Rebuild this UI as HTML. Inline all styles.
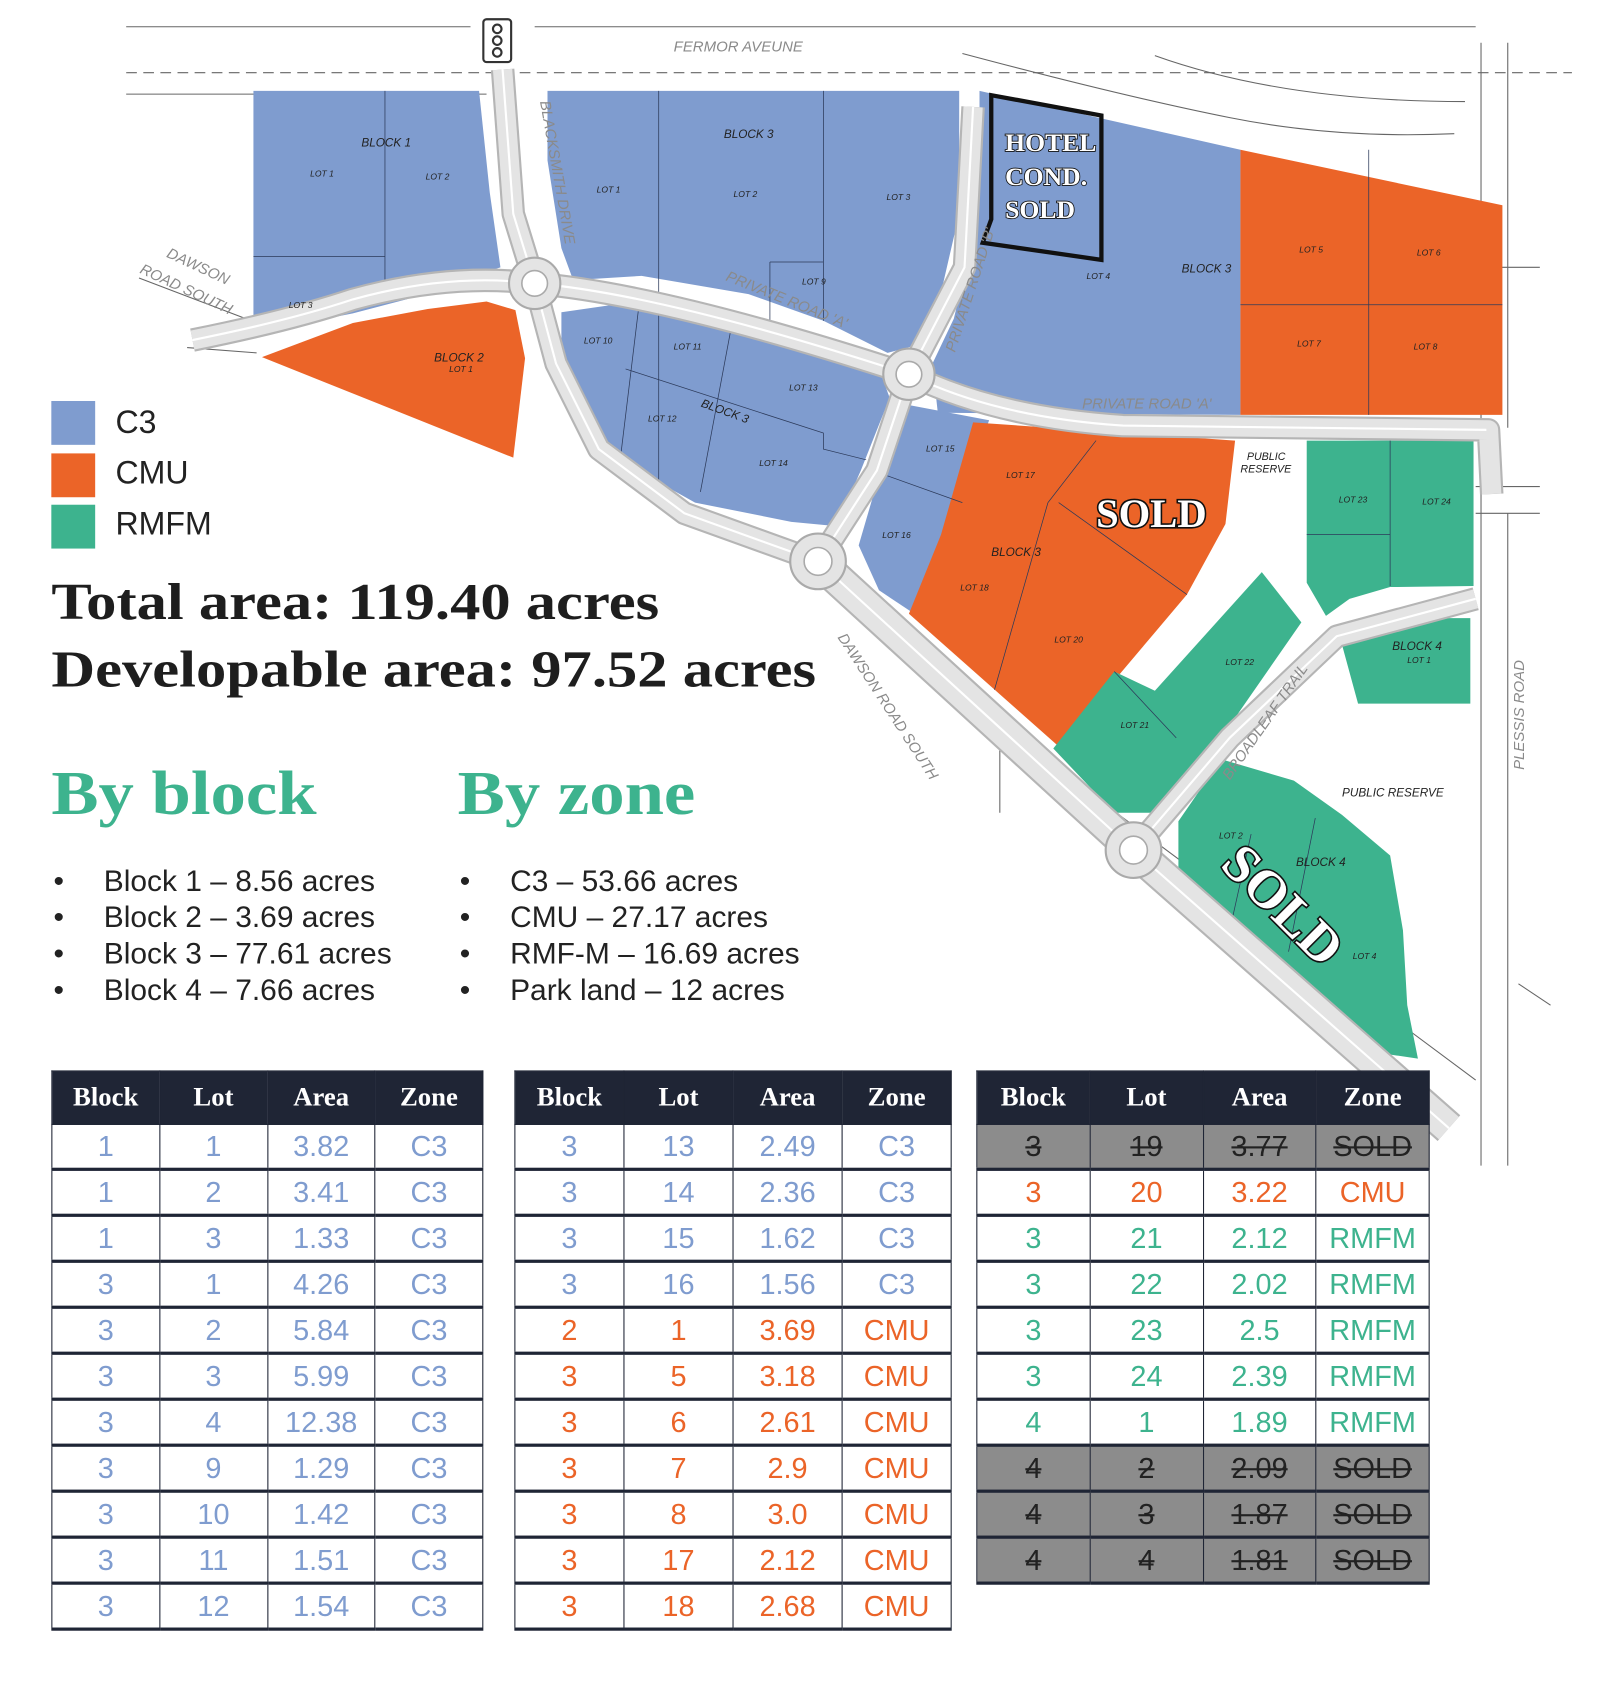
<!DOCTYPE html>
<html><head><meta charset="utf-8"><style>
html,body{margin:0;padding:0;background:#fff;}
body{width:1604px;height:1684px;overflow:hidden;position:relative;}
#w{position:absolute;left:0;top:0;width:1500px;height:1575px;transform:scale(1.06933);transform-origin:0 0;font-family:"Liberation Sans",sans-serif;}
.abs{position:absolute;}
.leg{position:absolute;left:48px;width:41px;height:41px;}
.legt{position:absolute;left:108px;font-size:30px;color:#222;}
.big{position:absolute;left:48px;font-family:"Liberation Serif",serif;font-weight:bold;font-size:48px;color:#1e1e1e;white-space:nowrap;transform:scaleX(1.18);transform-origin:0 0;}
.hd{position:absolute;font-family:"Liberation Serif",serif;font-weight:bold;font-size:58px;color:#3db38e;white-space:nowrap;transform:scaleX(1.14);transform-origin:0 0;}
.li{position:absolute;font-size:28px;color:#222;white-space:nowrap;}
table{position:absolute;border-collapse:collapse;table-layout:fixed;font-size:27px;}
th{background:#1f2535;color:#fff;font-family:"Liberation Serif",serif;font-weight:bold;font-size:25px;height:49px;border:1px solid #1f2535;padding:0;}
td{text-align:center;border-left:1.5px solid #1f2535;border-right:1.5px solid #1f2535;border-bottom:3px solid #1f2535;padding:0;height:40px;}
.b td{color:#7f9ccf}.o td{color:#eb6428}.g td{color:#3db38e}
.s td{background:#8c8c8c;color:#222;text-decoration:line-through;}
</style></head><body><div id="w">
<svg class="abs" style="left:0;top:0" width="1500" height="1575" viewBox="0 0 1500 1575">
<g fill="none" stroke="#666" stroke-width="1">
<path d="M118 25 H440 M500 25 H1380"/>
<path d="M118 68 H1470" stroke-dasharray="10 6"/>
<path d="M118 88 H455"/>
<path d="M900 50 Q1050 90 1150 110 T1360 125"/>
<path d="M1080 52 Q1200 95 1370 95"/>
<path d="M1385 40 V1090 M1410 40 V400 M1410 480 V1090 M1380 250 H1440 M1380 455 H1440 M1380 480 H1440"/>
<path d="M130 260 L235 300 M175 325 L240 330"/>
<path d="M990 720 L1380 1010 M1420 920 L1450 940 M935 700 V760"/>
</g>
<g>
<polygon fill="#7f9ccf" points="237,85 448,85 458,180 468,250 430,262 380,280 330,293 280,303 237,308"/>
<polygon fill="#7f9ccf" points="512,85 897,85 897,200 882,265 860,322 830,330 770,300 700,275 600,258 536,262 525,232 512,150"/>
<polygon fill="#7f9ccf" points="525,292 580,284 680,295 760,320 822,345 832,372 805,440 782,492 740,488 650,470 582,432 546,382 525,332"/>
<polygon fill="#7f9ccf" points="846,378 925,393 900,460 852,572 822,552 803,510 822,445"/>
<polygon fill="#7f9ccf" points="916,85 1160,140 1160,388 877,386 872,340 892,298 906,240 916,180"/>
<polygon fill="#eb6428" points="1160,140 1405,192 1405,388 1160,388"/>
<polygon fill="#eb6428" points="245,334 330,302 400,289 455,282 482,290 491,335 480,428"/>
<polygon fill="#eb6428" points="910,395 1155,412 1146,490 1110,556 990,698 850,574 880,500"/>
<polygon fill="#3db38e" points="1222,412 1378,412 1378,548 1300,549 1262,560 1240,576 1222,545"/>
<polygon fill="#3db38e" points="1252,592 1285,578 1375,578 1375,658 1270,658"/>
<polygon fill="#3db38e" points="1180,535 1217,582 1142,690 1082,760 1042,760 985,700 1042,628 1080,646"/>
<polygon fill="#3db38e" points="1102,768 1142,710 1210,730 1255,762 1300,800 1312,870 1316,940 1326,990 1292,985 1262,956 1102,812"/>
</g>
<g fill="none" stroke="#2c3a5a" stroke-width="0.7">
<path d="M360 85 V270 M237 240 H360 M616 85 V470 M770 85 V300 M720 245 H770 M720 245 V310 M597 290 L580 430 M685 300 L655 460 M585 345 L770 405 L770 420 L810 430 M830 445 L900 470 M1280 140 V388 M1160 285 H1405 M1025 412 L980 470 M990 470 L1110 556 M980 470 L930 645 M1300 412 V548 M1222 500 L1300 500 M1100 690 L1042 628 M1170 780 L1150 870 M1230 765 L1205 890"/>
</g>
<polygon fill="none" stroke="#111" stroke-width="4" points="927,89 1030,108 1030,243 919,227 927,205"/>
<g fill="none" stroke-linecap="butt" stroke-linejoin="round">
<g stroke="#b5b5b5" stroke-width="22">
<path d="M470 65 L480 200 L500 265 L520 340 L560 420 L640 480 L765 525"/>
<path d="M180 318 Q270 300 330 280 Q420 255 500 265 Q620 275 850 350 Q930 390 1050 398 L1392 402 L1395 462"/>
<path d="M910 100 L902 250 L850 350 L820 440 L765 525"/>
<path d="M765 525 L1060 795 L1355 1055" stroke-width="32"/>
<path d="M1060 795 L1150 690 L1250 595 L1380 560"/>
</g>
<g stroke="#e4e4e4" stroke-width="18">
<path d="M470 65 L480 200 L500 265 L520 340 L560 420 L640 480 L765 525"/>
<path d="M180 318 Q270 300 330 280 Q420 255 500 265 Q620 275 850 350 Q930 390 1050 398 L1392 402 L1395 462"/>
<path d="M910 100 L902 250 L850 350 L820 440 L765 525"/>
<path d="M765 525 L1060 795 L1355 1055" stroke-width="28"/>
<path d="M1060 795 L1150 690 L1250 595 L1380 560"/>
</g>
<g stroke="#fff" stroke-width="2">
<path d="M470 65 L480 200 L500 265 L520 340 L560 420 L640 480 L765 525"/>
<path d="M180 318 Q270 300 330 280 Q420 255 500 265 Q620 275 850 350 Q930 390 1050 398 L1390 402"/>
<path d="M910 100 L902 250 L850 350 L820 440 L765 525"/>
<path d="M765 525 L1060 795 L1355 1055"/>
<path d="M1060 795 L1150 690 L1250 595 L1380 560"/>
</g>
</g>
<g fill="#e4e4e4" stroke="#aaa" stroke-width="2">
<circle cx="500" cy="265" r="24"/><circle cx="850" cy="350" r="24"/><circle cx="765" cy="525" r="26"/><circle cx="1060" cy="795" r="26"/>
</g>
<g fill="#fff" stroke="#aaa" stroke-width="1.5">
<circle cx="500" cy="265" r="12"/><circle cx="850" cy="350" r="12"/><circle cx="765" cy="525" r="13"/><circle cx="1060" cy="795" r="13"/>
</g>
<g><rect x="452" y="18" width="26" height="40" rx="3" fill="#fff" stroke="#333" stroke-width="2"/>
<circle cx="465" cy="27" r="4" fill="none" stroke="#333" stroke-width="2"/><circle cx="465" cy="38" r="4" fill="none" stroke="#333" stroke-width="2"/><circle cx="465" cy="49" r="4" fill="none" stroke="#333" stroke-width="2"/></g>
<g font-family="Liberation Sans,sans-serif" font-style="italic" fill="#222" font-size="8">
<text x="290" y="165">LOT 1</text><text x="398" y="168">LOT 2</text><text x="270" y="288">LOT 3</text>
<text x="338" y="137" font-size="11">BLOCK 1</text>
<text x="558" y="180">LOT 1</text><text x="686" y="184">LOT 2</text><text x="829" y="187">LOT 3</text>
<text x="677" y="129" font-size="11">BLOCK 3</text><text x="750" y="266">LOT 9</text>
<text x="1016" y="261">LOT 4</text><text x="1105" y="255" font-size="11">BLOCK 3</text>
<text x="1215" y="236">LOT 5</text><text x="1325" y="239">LOT 6</text><text x="1213" y="324">LOT 7</text><text x="1322" y="327">LOT 8</text>
<text x="406" y="338" font-size="11">BLOCK 2</text><text x="420" y="348">LOT 1</text>
<text x="546" y="321">LOT 10</text><text x="630" y="327">LOT 11</text><text x="738" y="365">LOT 13</text>
<text x="606" y="394">LOT 12</text><text x="710" y="436">LOT 14</text><text x="655" y="380" font-size="11" transform="rotate(20 655 380)">BLOCK 3</text>
<text x="866" y="422">LOT 15</text><text x="825" y="503">LOT 16</text>
<text x="941" y="447">LOT 17</text><text x="927" y="520" font-size="11">BLOCK 3</text><text x="898" y="552">LOT 18</text><text x="986" y="601">LOT 20</text>
<text x="1252" y="470">LOT 23</text><text x="1330" y="472">LOT 24</text>
<text x="1302" y="608" font-size="11">BLOCK 4</text><text x="1316" y="620">LOT 1</text>
<text x="1146" y="622">LOT 22</text><text x="1048" y="681">LOT 21</text>
<text x="1140" y="784">LOT 2</text><text x="1212" y="810" font-size="11">BLOCK 4</text><text x="1265" y="897">LOT 4</text>
<text x="1166" y="430" font-size="10">PUBLIC</text><text x="1160" y="442" font-size="10">RESERVE</text>
<text x="1255" y="745" font-size="11">PUBLIC RESERVE</text>
</g>
<g font-family="Liberation Sans,sans-serif" font-style="italic" fill="#8a8a8a" font-size="14">
<text x="630" y="48">FERMOR AVEUNE</text>
<text x="1012" y="382">PRIVATE ROAD 'A'</text>
<text x="678" y="262" transform="rotate(22 678 262)">PRIVATE ROAD 'A'</text>
<text x="505" y="95" transform="rotate(80 505 95)">BLACKSMITH DRIVE</text>
<text x="893" y="330" transform="rotate(-72 893 330)">PRIVATE ROAD 'B'</text>
<text x="155" y="240" transform="rotate(25 155 240)">DAWSON</text><text x="130" y="255" transform="rotate(25 130 255)">ROAD SOUTH</text>
<text x="783" y="596" transform="rotate(57 783 596)">DAWSON ROAD SOUTH</text>
<text x="1150" y="730" transform="rotate(-55 1150 730)">BROADLEAF TRAIL</text>
<text x="1425" y="720" transform="rotate(-90 1425 720)">PLESSIS ROAD</text>
</g>
<g font-family="Liberation Serif,serif" font-weight="bold" fill="#fff" stroke="#111" stroke-width="1.6" paint-order="stroke">
<text x="940" y="141" font-size="24">HOTEL</text>
<text x="940" y="173" font-size="24">COND.</text>
<text x="940" y="204" font-size="24">SOLD</text>
<text x="1025" y="493" font-size="38" stroke-width="3">SOLD</text>
<text x="1140" y="810" font-size="50" stroke-width="3" transform="rotate(45 1140 810)">SOLD</text>
</g>
</svg>

<div class="leg" style="top:375px;background:#7f9ccf"></div><div class="legt" style="top:379px">C3</div>
<div class="leg" style="top:424px;background:#eb6428"></div><div class="legt" style="top:426px">CMU</div>
<div class="leg" style="top:472px;background:#3db38e"></div><div class="legt" style="top:474px">RMFM</div>

<div class="big" style="top:536px">Total area: 119.40 acres</div>
<div class="big" style="top:599px">Developable area: 97.52 acres</div>
<div class="hd" style="left:48px;top:708px">By block</div>
<div class="hd" style="left:428px;top:708px">By zone</div>

<div class="li" style="left:50px;top:808px">•</div><div class="li" style="left:97px;top:808px">Block 1 – 8.56 acres</div>
<div class="li" style="left:50px;top:842px">•</div><div class="li" style="left:97px;top:842px">Block 2 – 3.69 acres</div>
<div class="li" style="left:50px;top:876px">•</div><div class="li" style="left:97px;top:876px">Block 3 – 77.61 acres</div>
<div class="li" style="left:50px;top:910px">•</div><div class="li" style="left:97px;top:910px">Block 4 – 7.66 acres</div>
<div class="li" style="left:430px;top:808px">•</div><div class="li" style="left:477px;top:808px">C3 – 53.66 acres</div>
<div class="li" style="left:430px;top:842px">•</div><div class="li" style="left:477px;top:842px">CMU – 27.17 acres</div>
<div class="li" style="left:430px;top:876px">•</div><div class="li" style="left:477px;top:876px">RMF-M – 16.69 acres</div>
<div class="li" style="left:430px;top:910px">•</div><div class="li" style="left:477px;top:910px">Park land – 12 acres</div>

<table style="left:48px;top:1001px;width:404px">
<tr><th>Block</th><th>Lot</th><th>Area</th><th>Zone</th></tr>
<tr class="b"><td>1</td><td>1</td><td>3.82</td><td>C3</td></tr>
<tr class="b"><td>1</td><td>2</td><td>3.41</td><td>C3</td></tr>
<tr class="b"><td>1</td><td>3</td><td>1.33</td><td>C3</td></tr>
<tr class="b"><td>3</td><td>1</td><td>4.26</td><td>C3</td></tr>
<tr class="b"><td>3</td><td>2</td><td>5.84</td><td>C3</td></tr>
<tr class="b"><td>3</td><td>3</td><td>5.99</td><td>C3</td></tr>
<tr class="b"><td>3</td><td>4</td><td>12.38</td><td>C3</td></tr>
<tr class="b"><td>3</td><td>9</td><td>1.29</td><td>C3</td></tr>
<tr class="b"><td>3</td><td>10</td><td>1.42</td><td>C3</td></tr>
<tr class="b"><td>3</td><td>11</td><td>1.51</td><td>C3</td></tr>
<tr class="b"><td>3</td><td>12</td><td>1.54</td><td>C3</td></tr>
</table>
<table style="left:481px;top:1001px;width:409px">
<tr><th>Block</th><th>Lot</th><th>Area</th><th>Zone</th></tr>
<tr class="b"><td>3</td><td>13</td><td>2.49</td><td>C3</td></tr>
<tr class="b"><td>3</td><td>14</td><td>2.36</td><td>C3</td></tr>
<tr class="b"><td>3</td><td>15</td><td>1.62</td><td>C3</td></tr>
<tr class="b"><td>3</td><td>16</td><td>1.56</td><td>C3</td></tr>
<tr class="o"><td>2</td><td>1</td><td>3.69</td><td>CMU</td></tr>
<tr class="o"><td>3</td><td>5</td><td>3.18</td><td>CMU</td></tr>
<tr class="o"><td>3</td><td>6</td><td>2.61</td><td>CMU</td></tr>
<tr class="o"><td>3</td><td>7</td><td>2.9</td><td>CMU</td></tr>
<tr class="o"><td>3</td><td>8</td><td>3.0</td><td>CMU</td></tr>
<tr class="o"><td>3</td><td>17</td><td>2.12</td><td>CMU</td></tr>
<tr class="o"><td>3</td><td>18</td><td>2.68</td><td>CMU</td></tr>
</table>
<table style="left:913px;top:1001px;width:424px">
<tr><th>Block</th><th>Lot</th><th>Area</th><th>Zone</th></tr>
<tr class="s"><td>3</td><td>19</td><td>3.77</td><td>SOLD</td></tr>
<tr class="o"><td>3</td><td>20</td><td>3.22</td><td>CMU</td></tr>
<tr class="g"><td>3</td><td>21</td><td>2.12</td><td>RMFM</td></tr>
<tr class="g"><td>3</td><td>22</td><td>2.02</td><td>RMFM</td></tr>
<tr class="g"><td>3</td><td>23</td><td>2.5</td><td>RMFM</td></tr>
<tr class="g"><td>3</td><td>24</td><td>2.39</td><td>RMFM</td></tr>
<tr class="g"><td>4</td><td>1</td><td>1.89</td><td>RMFM</td></tr>
<tr class="s"><td>4</td><td>2</td><td>2.09</td><td>SOLD</td></tr>
<tr class="s"><td>4</td><td>3</td><td>1.87</td><td>SOLD</td></tr>
<tr class="s"><td>4</td><td>4</td><td>1.81</td><td>SOLD</td></tr>
</table>
</div></body></html>
